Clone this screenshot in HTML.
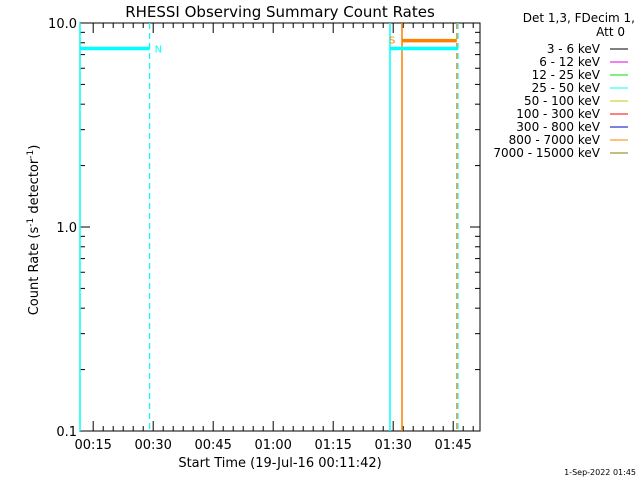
<!DOCTYPE html>
<html><head><meta charset="utf-8"><style>
body{margin:0;background:#fff;}
svg{display:block;font-family:"DejaVu Sans","Liberation Sans",sans-serif;}
</style></head><body>
<svg id="chart" width="640" height="480" viewBox="0 0 640 480">
<text x="280" y="17" font-size="15" text-anchor="middle">RHESSI Observing Summary Count Rates</text>
<g id="plot"></g>
<text x="38" y="230" font-size="13" text-anchor="middle" transform="rotate(-90 38 230)">Count Rate (s<tspan baseline-shift="super" font-size="9">-1</tspan> detector<tspan baseline-shift="super" font-size="9">-1</tspan>)</text>
<text x="280" y="467" font-size="13" text-anchor="middle">Start Time (19-Jul-16 00:11:42)</text>
<text x="635" y="22" font-size="12" text-anchor="end">Det 1,3, FDecim 1,</text>
<text x="625" y="36" font-size="12" text-anchor="end">Att 0</text>
<g id="legend"></g>
<text x="636" y="475" font-size="8" text-anchor="end">1-Sep-2022 01:45</text>
</svg>
<script>
const tickLabels=["00:15","00:30","00:45","01:00","01:15","01:30","01:45"];
const tickMinutes=[15,30,45,60,75,90,105];
const yTickValues=[0.1,1,10];
const yTickLabels=["0.1","1.0","10.0"];
const legendLabels=["3 - 6 keV","6 - 12 keV","12 - 25 keV","25 - 50 keV","50 - 100 keV","100 - 300 keV","300 - 800 keV","800 - 7000 keV","7000 - 15000 keV"];
const legendColors=["#000","#e000e0","#00e000","#00ffff","#c8c800","#ff0000","#0000c0","#ff8000","#808000"];
const solidMarkers=[[11.7,"#00ffff"],[89.2,"#00ffff"],[92.2,"#ff8000"]];
const dashedMarkers=[[29.1,"#00ffff"],[105.9,"#ff8000"],[106.2,"#00ffff"]];
const cyanSegments=[[11.7,29.1,7.5],[89.2,106.2,7.5]];
const orangeSegments=[[92.2,105.9,8.2]];
const X0=80,X1=480,Y0=23,Y1=431,T0=11.7,T1=111.7;
const xs=m=>X0+(m-T0)/(T1-T0)*(X1-X0);
const ys=v=>Y1-(Math.log10(v)+1)/2*(Y1-Y0);
const NS="http://www.w3.org/2000/svg";
const plot=document.getElementById('plot');
function mk(tag,attrs,parent){const e=document.createElementNS(NS,tag);for(const k in attrs)e.setAttribute(k,attrs[k]);(parent||plot).appendChild(e);return e;}
let frame=mk('rect',{x:X0,y:Y0,width:X1-X0,height:Y1-Y0,fill:'none',stroke:'#000','stroke-width':1});


for(let m=15;m<=T1;m+=2.5){const major=tickMinutes.includes(m);const x=xs(m);const h=major?10:5;
mk('line',{x1:x,x2:x,y1:Y1,y2:Y1-h,stroke:'#000'});mk('line',{x1:x,x2:x,y1:Y0,y2:Y0+h,stroke:'#000'});}
tickLabels.forEach((l,i)=>{const t=mk('text',{x:xs(tickMinutes[i]),y:Y1+18,'font-size':13,'text-anchor':'middle'});t.textContent=l;

});
for(let d=-1;d<1;d++)for(let k=1;k<=10;k++){const v=k*Math.pow(10,d);const y=ys(v);const h=(k==1||k==10)?10:5;
mk('line',{x1:X0,x2:X0+h,y1:y,y2:y,stroke:'#000'});mk('line',{x1:X1,x2:X1-h,y1:y,y2:y,stroke:'#000'});}
yTickValues.forEach((v,i)=>{const t=mk('text',{x:X0-3,y:ys(v)+5,'font-size':13,'text-anchor':'end'});t.textContent=yTickLabels[i];

});
solidMarkers.forEach(([m,c])=>{const l=mk('line',{x1:xs(m),x2:xs(m),y1:Y0,y2:Y1,stroke:c,'stroke-width':1.5});

});
dashedMarkers.forEach(([m,c])=>{const l=mk('line',{x1:xs(m),x2:xs(m),y1:Y0,y2:Y1,stroke:c,'stroke-width':1.2,'stroke-dasharray':'6,4'});

});
cyanSegments.forEach(([a,b,v])=>{const l=mk('line',{x1:xs(a),x2:xs(b),y1:ys(v),y2:ys(v),stroke:'#00ffff','stroke-width':3.5});

});
orangeSegments.forEach(([a,b,v])=>{const l=mk('line',{x1:xs(a),x2:xs(b),y1:ys(v),y2:ys(v),stroke:'#ff8000','stroke-width':3.5});

});
let n=mk('text',{x:xs(29.1)+5,y:ys(7.5)+4,'font-size':10,fill:'#00ffff'});n.textContent='N';


let s=mk('text',{x:xs(89.2)-1,y:ys(8.2)+3,'font-size':10,fill:'#ff8000'});s.textContent='S';


const lg=document.getElementById('legend');
legendLabels.forEach((l,i)=>{const y=53+i*13;const t=mk('text',{x:600,y:y,'font-size':12,'text-anchor':'end'},lg);t.textContent=l;


mk('line',{x1:610,x2:628,y1:y-4,y2:y-4,stroke:legendColors[i],'stroke-width':1},lg);});
</script>
</body></html>
